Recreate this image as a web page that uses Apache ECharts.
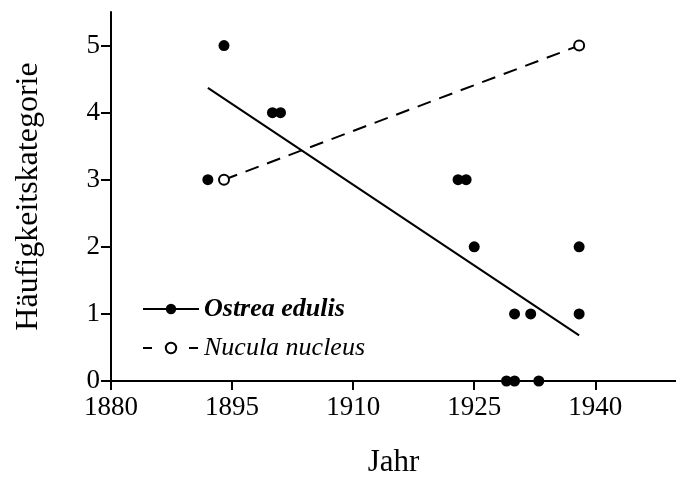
<!DOCTYPE html>
<html>
<head>
<meta charset="utf-8">
<script src="https://cdn.jsdelivr.net/npm/echarts@6/dist/echarts.min.js"></script>
<style>
html,body{margin:0;padding:0;background:#fff;}
#chart{width:676px;height:483px;}
</style>
</head>
<body>
<div id="chart"></div>
<script>
// ---- data ----
const ostreaYears  = [1892, 1894, 1900, 1901, 1923, 1924, 1925, 1929, 1930, 1930, 1932, 1933, 1938, 1938];
const ostreaValues = [3, 5, 4, 4, 3, 3, 2, 0, 0, 1, 1, 0, 2, 1];
const ostreaTrendYears  = [1892, 1938];
const ostreaTrendValues = [4.37, 0.68];
const nuculaYears  = [1894, 1938];
const nuculaValues = [3, 5];
const xTickLabels = [1880, 1895, 1910, 1925, 1940];
const yTickLabels = [0, 1, 2, 3, 4, 5];
const seriesNames = ['Ostrea edulis', 'Nucula nucleus'];

const FONT = '"Liberation Serif","Times New Roman",serif';
const pairs = (xs, ys) => xs.map((x, i) => [x, ys[i]]);

const chart = echarts.init(document.getElementById('chart'));
chart.setOption({
  animation: false,
  color: ['#000'],
  grid: { left: 111, top: 12, width: 574, height: 383, containLabel: false },
  xAxis: {
    type: 'value', min: 1880, max: 1950, interval: 15,
    name: 'Jahr', nameLocation: 'middle', nameGap: 66,
    nameTextStyle: { fontFamily: FONT, fontSize: 31, color: '#000' },
    axisLine: { show: true, onZero: false, lineStyle: { color: '#000', width: 2 } },
    axisTick: { show: true, length: 9, lineStyle: { color: '#000', width: 2 }, customValues: xTickLabels },
    axisLabel: { fontFamily: FONT, fontSize: 27, color: '#000', margin: 13, customValues: xTickLabels, formatter: v => String(v) },
    splitLine: { show: false }
  },
  yAxis: {
    type: 'value', min: 0, max: 5.5, interval: 1,
    name: 'Häufigkeitskategorie', nameLocation: 'middle', nameGap: 66, nameRotate: 90,
    nameTextStyle: { fontFamily: FONT, fontSize: 32, color: '#000' },
    axisLine: { show: true, onZero: false, lineStyle: { color: '#000', width: 2 } },
    axisTick: { show: true, length: 10, lineStyle: { color: '#000', width: 2 }, customValues: yTickLabels },
    axisLabel: { fontFamily: FONT, fontSize: 27, color: '#000', margin: 11, customValues: yTickLabels, formatter: v => String(v) },
    splitLine: { show: false }
  },
  legend: {
    orient: 'vertical', left: 137, top: 291, itemGap: 13,
    itemWidth: 56, itemHeight: 13,
    data: [
      { name: seriesNames[0] },
      { name: seriesNames[1], lineStyle: { type: [9, 37], width: 2 } }
    ],
    formatter: n => (n === seriesNames[0] ? '{b|' + n + '}' : '{i|' + n + '}'),
    textStyle: {
      color: '#000',
      rich: {
        b: { fontFamily: FONT, fontSize: 26, fontStyle: 'italic', fontWeight: 'bold', color: '#000' },
        i: { fontFamily: FONT, fontSize: 26, fontStyle: 'italic', color: '#000' }
      }
    }
  },
  series: [
    {
      name: seriesNames[0], type: 'line',
      data: pairs(ostreaTrendYears, ostreaTrendValues),
      symbol: 'none',
      lineStyle: { color: '#000', width: 2 },
      itemStyle: { color: '#000', opacity: 1 },
      z: 2
    },
    {
      name: seriesNames[0], type: 'scatter',
      data: pairs(ostreaYears, ostreaValues),
      symbol: 'circle', symbolSize: 11,
      itemStyle: { color: '#000', opacity: 1 },
      clip: false, z: 3
    },
    {
      name: seriesNames[1], type: 'line',
      data: pairs(nuculaYears, nuculaValues),
      symbol: 'emptyCircle', symbolSize: 10,
      lineStyle: { color: '#000', width: 2, type: [14, 9] },
      itemStyle: { color: '#000', borderColor: '#000', borderWidth: 1.8, opacity: 1 },
      z: 2
    }
  ]
});
</script>
</body>
</html>
